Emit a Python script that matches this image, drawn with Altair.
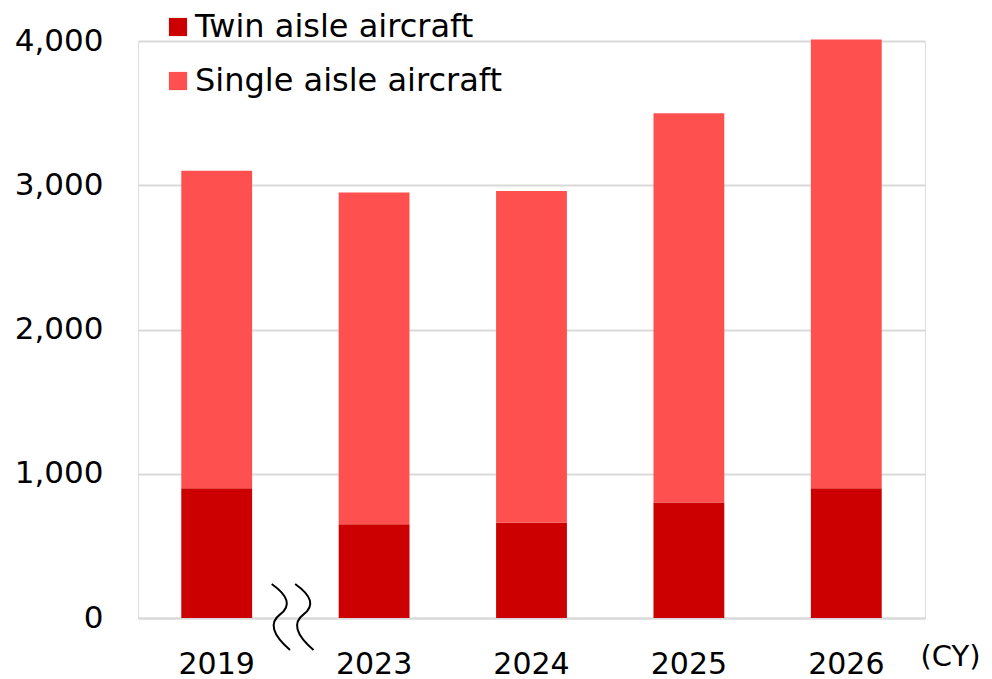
import altair as alt
import pandas as pd

years = ["2019", "2023", "2024", "2025", "2026"]
twin_aisle = [900, 650, 660, 800, 900]
single_aisle = [2200, 2300, 2300, 2700, 3110]
series_names = ["Twin aisle aircraft", "Single aisle aircraft"]
series_colors = ["#CC0000", "#FF5050"]
y_ticks = [0, 1000, 2000, 3000, 4000]

rows = []
for i, yr in enumerate(years):
    rows.append({"year": yr, "series": series_names[0], "value": twin_aisle[i], "ord": 0})
    rows.append({"year": yr, "series": series_names[1], "value": single_aisle[i], "ord": 1})
df = pd.DataFrame(rows)

FONT = "DejaVu Sans"
FS = 30
LFS = 32

bars = alt.Chart(df).mark_bar().encode(
    x=alt.X("year:N", sort=years,
            scale=alt.Scale(paddingInner=0.55, paddingOuter=0.275),
            axis=alt.Axis(title="(CY)", labelAngle=0, ticks=False, tickSize=0,
                          labelPadding=31, labelFontSize=FS, labelFont=FONT,
                          labelColor="#000000",
                          domain=True, domainColor="#d9d9d9", domainWidth=2,
                          titleFont=FONT, titleFontSize=29, titleFontWeight="normal",
                          titleColor="#000000", titleAnchor="start", titleAlign="left",
                          titleBaseline="top", titleX=782, titleY=24, titleAngle=0)),
    y=alt.Y("value:Q", stack="zero",
            scale=alt.Scale(domain=[0, 4000], nice=False),
            axis=alt.Axis(title=None, values=y_ticks, format=",d", ticks=False, tickSize=0,
                          labelPadding=35, labelFontSize=31, labelFont=FONT,
                          labelColor="#000000", domain=False,
                          grid=True, gridColor="#d9d9d9", gridWidth=2)),
    color=alt.Color("series:N", sort=series_names,
                    scale=alt.Scale(domain=series_names, range=series_colors),
                    legend=alt.Legend(title=None, orient="none", legendX=24, legendY=-30,
                                      symbolType="square", symbolSize=330,
                                      symbolStrokeWidth=0, labelFontSize=LFS,
                                      labelFont=FONT, labelColor="#000000",
                                      rowPadding=22, padding=0, labelOffset=1,
                                      labelLimit=0)),
    order=alt.Order("ord:Q", sort="ascending"),
)

break_path = ("M -0.615 -1 Q 0.15 -0.46 -0.36 -0.08 Q -0.87 0.30 -0.06 1 "
              "M 0.095 -1 Q 0.86 -0.46 0.35 -0.08 Q -0.16 0.30 0.65 1")
brk = alt.Chart(pd.DataFrame({"k": [0]})).mark_point(
    shape=break_path, filled=False, stroke="#000000", strokeWidth=2, size=4356, opacity=1
).encode(x=alt.value(154), y=alt.value(576))

chart = alt.layer(bars, brk).properties(
    width=787, height=577,
    autosize=alt.AutoSizeParams(type="none"),
    padding={"left": 130, "top": 33, "right": 59, "bottom": 61},
).configure_view(stroke=None).configure(background="#ffffff")

chart.save("out.html", embed_options={"renderer": "svg", "actions": False})
